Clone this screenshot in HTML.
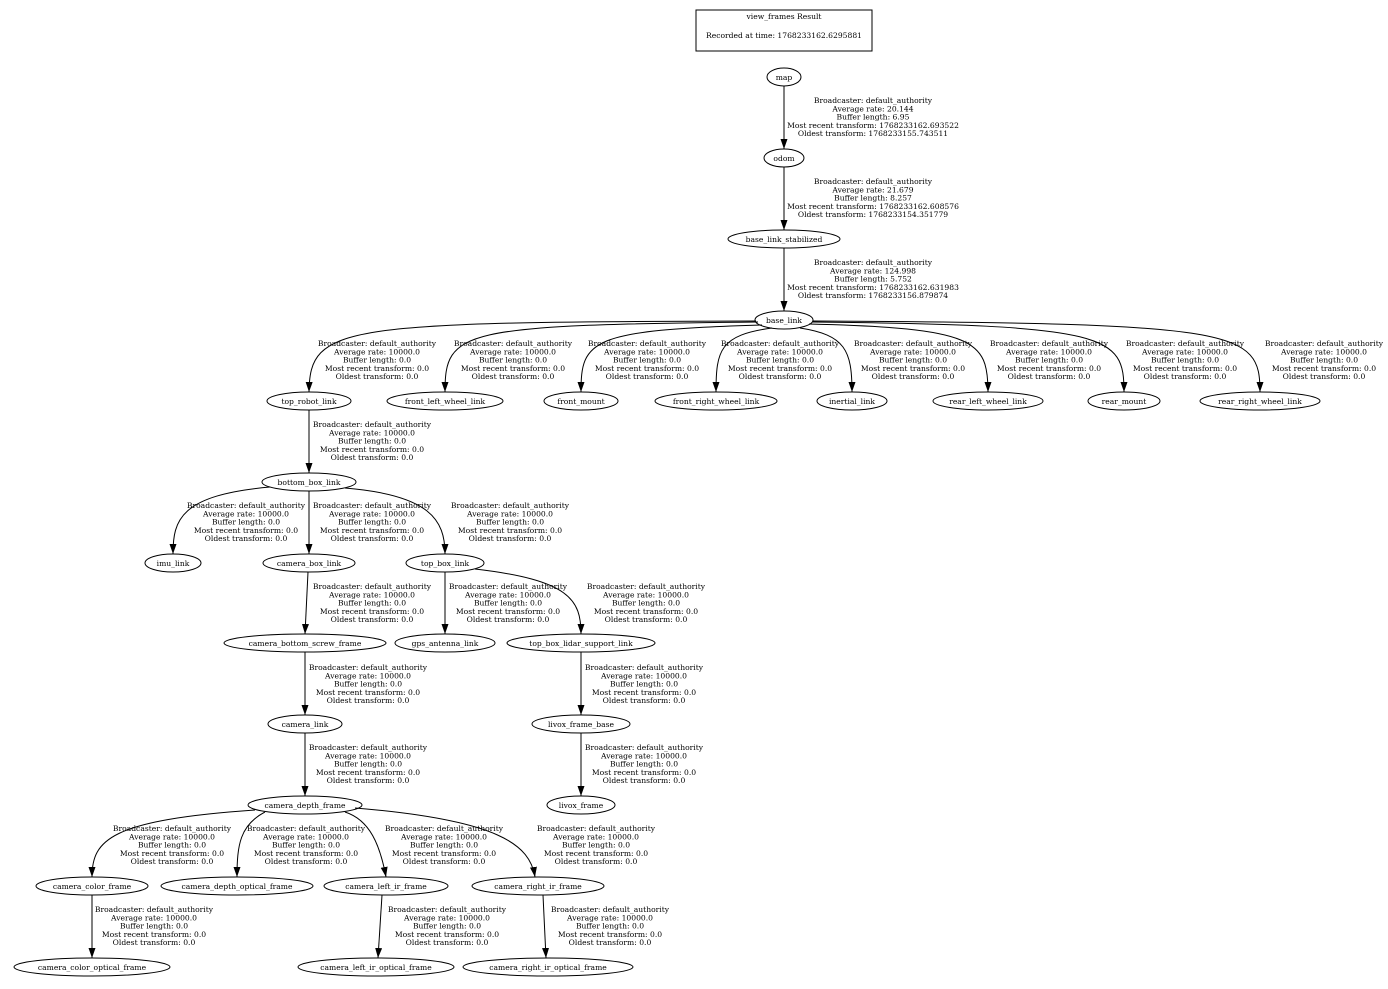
<!DOCTYPE html>
<html><head><meta charset="utf-8"><style>
html,body{margin:0;padding:0;background:#fff;}
svg{display:block;}
text{font-family:"DejaVu Serif","Liberation Serif",serif;font-size:7.6px;fill:#000;}
.n{text-anchor:middle;}
.l{text-anchor:middle;}
ellipse,rect{fill:none;stroke:#000;stroke-width:1;}
path.e{fill:none;stroke:#000;stroke-width:1;marker-end:url(#a);}
</style></head><body>
<svg width="1388" height="989" viewBox="0 0 1388 989" xmlns="http://www.w3.org/2000/svg">
<defs><marker id="a" markerUnits="userSpaceOnUse" markerWidth="10" markerHeight="8" refX="10" refY="3.5" orient="auto"><path d="M0,0 L10,3.5 L0,7 z" fill="#000"/></marker></defs>
<rect x="696" y="10" width="176" height="41"/>
<text class="n" x="784" y="19">view_frames Result</text>
<text class="n" x="784" y="38">Recorded at time: 1768233162.6295881</text>

<path class="e" d="M784,86 L784,149"/>
<path class="e" d="M784,167 L784,230"/>
<path class="e" d="M784,248 L784,311"/>
<path class="e" d="M756,321 C340,322 310,325 309,392"/>
<path class="e" d="M758,322 C460,325 445,330 445,392"/>
<path class="e" d="M762,325 C590,330 581,340 581,392"/>
<path class="e" d="M772,328 C720,335 716,350 716,392"/>
<path class="e" d="M800,328 C845,335 852,350 852,392"/>
<path class="e" d="M809,324 C975,328 988,340 988,392"/>
<path class="e" d="M812,322 C1110,325 1124,335 1124,392"/>
<path class="e" d="M813,321 C1240,323 1260,330 1260,392"/>
<path class="e" d="M309,410 L309,473"/>
<path class="e" d="M270,487 C180,495 173,520 173,554"/>
<path class="e" d="M309,491 L309,554"/>
<path class="e" d="M345,488 C430,495 445,520 445,554"/>
<path class="e" d="M308,572 L305,634"/>
<path class="e" d="M445,572 L445,634"/>
<path class="e" d="M475,569 C570,580 581,600 581,634"/>
<path class="e" d="M305,652 L305,715"/>
<path class="e" d="M581,652 L581,715"/>
<path class="e" d="M305,733 L305,796"/>
<path class="e" d="M581,733 L581,796"/>
<path class="e" d="M255,810 C110,820 92,840 92,877"/>
<path class="e" d="M265,812 C240,825 237,845 237,877"/>
<path class="e" d="M345,812 C370,820 380,845 386,877"/>
<path class="e" d="M355,808 C500,820 530,845 535,877"/>
<path class="e" d="M92,895 L92,958"/>
<path class="e" d="M382,895 L378,958"/>
<path class="e" d="M543,895 L546,958"/>

<ellipse cx="784" cy="77" rx="17" ry="9"/><text class="n" x="784" y="80">map</text>
<ellipse cx="784" cy="158" rx="20" ry="9"/><text class="n" x="784" y="161">odom</text>
<ellipse cx="784" cy="239" rx="56" ry="9"/><text class="n" x="784" y="242">base_link_stabilized</text>
<ellipse cx="784" cy="320" rx="29" ry="9"/><text class="n" x="784" y="323">base_link</text>
<ellipse cx="309" cy="401" rx="42" ry="9"/><text class="n" x="309" y="404">top_robot_link</text>
<ellipse cx="445" cy="401" rx="58" ry="9"/><text class="n" x="445" y="404">front_left_wheel_link</text>
<ellipse cx="581" cy="401" rx="37" ry="9"/><text class="n" x="581" y="404">front_mount</text>
<ellipse cx="716" cy="401" rx="61" ry="9"/><text class="n" x="716" y="404">front_right_wheel_link</text>
<ellipse cx="852" cy="401" rx="35" ry="9"/><text class="n" x="852" y="404">inertial_link</text>
<ellipse cx="988" cy="401" rx="55" ry="9"/><text class="n" x="988" y="404">rear_left_wheel_link</text>
<ellipse cx="1124" cy="401" rx="36" ry="9"/><text class="n" x="1124" y="404">rear_mount</text>
<ellipse cx="1260" cy="401" rx="60" ry="9"/><text class="n" x="1260" y="404">rear_right_wheel_link</text>
<ellipse cx="309" cy="482" rx="47" ry="9"/><text class="n" x="309" y="485">bottom_box_link</text>
<ellipse cx="173" cy="563" rx="28" ry="9"/><text class="n" x="173" y="566">imu_link</text>
<ellipse cx="309" cy="563" rx="46" ry="9"/><text class="n" x="309" y="566">camera_box_link</text>
<ellipse cx="445" cy="563" rx="39" ry="9"/><text class="n" x="445" y="566">top_box_link</text>
<ellipse cx="305" cy="643" rx="81" ry="9"/><text class="n" x="305" y="646">camera_bottom_screw_frame</text>
<ellipse cx="445" cy="643" rx="50" ry="9"/><text class="n" x="445" y="646">gps_antenna_link</text>
<ellipse cx="581" cy="643" rx="74" ry="9"/><text class="n" x="581" y="646">top_box_lidar_support_link</text>
<ellipse cx="305" cy="724" rx="37" ry="9"/><text class="n" x="305" y="727">camera_link</text>
<ellipse cx="581" cy="724" rx="49" ry="9"/><text class="n" x="581" y="727">livox_frame_base</text>
<ellipse cx="305" cy="805" rx="57" ry="9"/><text class="n" x="305" y="808">camera_depth_frame</text>
<ellipse cx="581" cy="805" rx="34" ry="9"/><text class="n" x="581" y="808">livox_frame</text>
<ellipse cx="92" cy="886" rx="56" ry="9"/><text class="n" x="92" y="889">camera_color_frame</text>
<ellipse cx="237" cy="886" rx="76" ry="9"/><text class="n" x="237" y="889">camera_depth_optical_frame</text>
<ellipse cx="386" cy="886" rx="62" ry="9"/><text class="n" x="386" y="889">camera_left_ir_frame</text>
<ellipse cx="538" cy="886" rx="66" ry="9"/><text class="n" x="538" y="889">camera_right_ir_frame</text>
<ellipse cx="92" cy="967" rx="78" ry="9"/><text class="n" x="92" y="970">camera_color_optical_frame</text>
<ellipse cx="376" cy="967" rx="78" ry="9"/><text class="n" x="376" y="970">camera_left_ir_optical_frame</text>
<ellipse cx="548" cy="967" rx="85" ry="9"/><text class="n" x="548" y="970">camera_right_ir_optical_frame</text>

<text class="l" x="873" y="103"><tspan x="873">Broadcaster: default_authority</tspan><tspan x="873" dy="8.3">Average rate: 20.144</tspan><tspan x="873" dy="8.3">Buffer length: 6.95</tspan><tspan x="873" dy="8.3">Most recent transform: 1768233162.693522</tspan><tspan x="873" dy="8.3">Oldest transform: 1768233155.743511</tspan></text>
<text class="l" x="873" y="184"><tspan x="873">Broadcaster: default_authority</tspan><tspan x="873" dy="8.3">Average rate: 21.679</tspan><tspan x="873" dy="8.3">Buffer length: 8.257</tspan><tspan x="873" dy="8.3">Most recent transform: 1768233162.608576</tspan><tspan x="873" dy="8.3">Oldest transform: 1768233154.351779</tspan></text>
<text class="l" x="873" y="265"><tspan x="873">Broadcaster: default_authority</tspan><tspan x="873" dy="8.3">Average rate: 124.998</tspan><tspan x="873" dy="8.3">Buffer length: 5.752</tspan><tspan x="873" dy="8.3">Most recent transform: 1768233162.631983</tspan><tspan x="873" dy="8.3">Oldest transform: 1768233156.879874</tspan></text>

<text class="l" y="346"><tspan x="377">Broadcaster: default_authority</tspan><tspan x="377" dy="8.3">Average rate: 10000.0</tspan><tspan x="377" dy="8.3">Buffer length: 0.0</tspan><tspan x="377" dy="8.3">Most recent transform: 0.0</tspan><tspan x="377" dy="8.3">Oldest transform: 0.0</tspan></text>
<text class="l" y="346"><tspan x="513">Broadcaster: default_authority</tspan><tspan x="513" dy="8.3">Average rate: 10000.0</tspan><tspan x="513" dy="8.3">Buffer length: 0.0</tspan><tspan x="513" dy="8.3">Most recent transform: 0.0</tspan><tspan x="513" dy="8.3">Oldest transform: 0.0</tspan></text>
<text class="l" y="346"><tspan x="647">Broadcaster: default_authority</tspan><tspan x="647" dy="8.3">Average rate: 10000.0</tspan><tspan x="647" dy="8.3">Buffer length: 0.0</tspan><tspan x="647" dy="8.3">Most recent transform: 0.0</tspan><tspan x="647" dy="8.3">Oldest transform: 0.0</tspan></text>
<text class="l" y="346"><tspan x="780">Broadcaster: default_authority</tspan><tspan x="780" dy="8.3">Average rate: 10000.0</tspan><tspan x="780" dy="8.3">Buffer length: 0.0</tspan><tspan x="780" dy="8.3">Most recent transform: 0.0</tspan><tspan x="780" dy="8.3">Oldest transform: 0.0</tspan></text>
<text class="l" y="346"><tspan x="913">Broadcaster: default_authority</tspan><tspan x="913" dy="8.3">Average rate: 10000.0</tspan><tspan x="913" dy="8.3">Buffer length: 0.0</tspan><tspan x="913" dy="8.3">Most recent transform: 0.0</tspan><tspan x="913" dy="8.3">Oldest transform: 0.0</tspan></text>
<text class="l" y="346"><tspan x="1049">Broadcaster: default_authority</tspan><tspan x="1049" dy="8.3">Average rate: 10000.0</tspan><tspan x="1049" dy="8.3">Buffer length: 0.0</tspan><tspan x="1049" dy="8.3">Most recent transform: 0.0</tspan><tspan x="1049" dy="8.3">Oldest transform: 0.0</tspan></text>
<text class="l" y="346"><tspan x="1185">Broadcaster: default_authority</tspan><tspan x="1185" dy="8.3">Average rate: 10000.0</tspan><tspan x="1185" dy="8.3">Buffer length: 0.0</tspan><tspan x="1185" dy="8.3">Most recent transform: 0.0</tspan><tspan x="1185" dy="8.3">Oldest transform: 0.0</tspan></text>
<text class="l" y="346"><tspan x="1324">Broadcaster: default_authority</tspan><tspan x="1324" dy="8.3">Average rate: 10000.0</tspan><tspan x="1324" dy="8.3">Buffer length: 0.0</tspan><tspan x="1324" dy="8.3">Most recent transform: 0.0</tspan><tspan x="1324" dy="8.3">Oldest transform: 0.0</tspan></text>

<text class="l" y="427"><tspan x="372">Broadcaster: default_authority</tspan><tspan x="372" dy="8.3">Average rate: 10000.0</tspan><tspan x="372" dy="8.3">Buffer length: 0.0</tspan><tspan x="372" dy="8.3">Most recent transform: 0.0</tspan><tspan x="372" dy="8.3">Oldest transform: 0.0</tspan></text>

<text class="l" y="508"><tspan x="246">Broadcaster: default_authority</tspan><tspan x="246" dy="8.3">Average rate: 10000.0</tspan><tspan x="246" dy="8.3">Buffer length: 0.0</tspan><tspan x="246" dy="8.3">Most recent transform: 0.0</tspan><tspan x="246" dy="8.3">Oldest transform: 0.0</tspan></text>
<text class="l" y="508"><tspan x="372">Broadcaster: default_authority</tspan><tspan x="372" dy="8.3">Average rate: 10000.0</tspan><tspan x="372" dy="8.3">Buffer length: 0.0</tspan><tspan x="372" dy="8.3">Most recent transform: 0.0</tspan><tspan x="372" dy="8.3">Oldest transform: 0.0</tspan></text>
<text class="l" y="508"><tspan x="510">Broadcaster: default_authority</tspan><tspan x="510" dy="8.3">Average rate: 10000.0</tspan><tspan x="510" dy="8.3">Buffer length: 0.0</tspan><tspan x="510" dy="8.3">Most recent transform: 0.0</tspan><tspan x="510" dy="8.3">Oldest transform: 0.0</tspan></text>

<text class="l" y="589"><tspan x="372">Broadcaster: default_authority</tspan><tspan x="372" dy="8.3">Average rate: 10000.0</tspan><tspan x="372" dy="8.3">Buffer length: 0.0</tspan><tspan x="372" dy="8.3">Most recent transform: 0.0</tspan><tspan x="372" dy="8.3">Oldest transform: 0.0</tspan></text>
<text class="l" y="589"><tspan x="508">Broadcaster: default_authority</tspan><tspan x="508" dy="8.3">Average rate: 10000.0</tspan><tspan x="508" dy="8.3">Buffer length: 0.0</tspan><tspan x="508" dy="8.3">Most recent transform: 0.0</tspan><tspan x="508" dy="8.3">Oldest transform: 0.0</tspan></text>
<text class="l" y="589"><tspan x="646">Broadcaster: default_authority</tspan><tspan x="646" dy="8.3">Average rate: 10000.0</tspan><tspan x="646" dy="8.3">Buffer length: 0.0</tspan><tspan x="646" dy="8.3">Most recent transform: 0.0</tspan><tspan x="646" dy="8.3">Oldest transform: 0.0</tspan></text>

<text class="l" y="670"><tspan x="368">Broadcaster: default_authority</tspan><tspan x="368" dy="8.3">Average rate: 10000.0</tspan><tspan x="368" dy="8.3">Buffer length: 0.0</tspan><tspan x="368" dy="8.3">Most recent transform: 0.0</tspan><tspan x="368" dy="8.3">Oldest transform: 0.0</tspan></text>
<text class="l" y="670"><tspan x="644">Broadcaster: default_authority</tspan><tspan x="644" dy="8.3">Average rate: 10000.0</tspan><tspan x="644" dy="8.3">Buffer length: 0.0</tspan><tspan x="644" dy="8.3">Most recent transform: 0.0</tspan><tspan x="644" dy="8.3">Oldest transform: 0.0</tspan></text>

<text class="l" y="750"><tspan x="368">Broadcaster: default_authority</tspan><tspan x="368" dy="8.3">Average rate: 10000.0</tspan><tspan x="368" dy="8.3">Buffer length: 0.0</tspan><tspan x="368" dy="8.3">Most recent transform: 0.0</tspan><tspan x="368" dy="8.3">Oldest transform: 0.0</tspan></text>
<text class="l" y="750"><tspan x="644">Broadcaster: default_authority</tspan><tspan x="644" dy="8.3">Average rate: 10000.0</tspan><tspan x="644" dy="8.3">Buffer length: 0.0</tspan><tspan x="644" dy="8.3">Most recent transform: 0.0</tspan><tspan x="644" dy="8.3">Oldest transform: 0.0</tspan></text>

<text class="l" y="831"><tspan x="172">Broadcaster: default_authority</tspan><tspan x="172" dy="8.3">Average rate: 10000.0</tspan><tspan x="172" dy="8.3">Buffer length: 0.0</tspan><tspan x="172" dy="8.3">Most recent transform: 0.0</tspan><tspan x="172" dy="8.3">Oldest transform: 0.0</tspan></text>
<text class="l" y="831"><tspan x="306">Broadcaster: default_authority</tspan><tspan x="306" dy="8.3">Average rate: 10000.0</tspan><tspan x="306" dy="8.3">Buffer length: 0.0</tspan><tspan x="306" dy="8.3">Most recent transform: 0.0</tspan><tspan x="306" dy="8.3">Oldest transform: 0.0</tspan></text>
<text class="l" y="831"><tspan x="444">Broadcaster: default_authority</tspan><tspan x="444" dy="8.3">Average rate: 10000.0</tspan><tspan x="444" dy="8.3">Buffer length: 0.0</tspan><tspan x="444" dy="8.3">Most recent transform: 0.0</tspan><tspan x="444" dy="8.3">Oldest transform: 0.0</tspan></text>
<text class="l" y="831"><tspan x="596">Broadcaster: default_authority</tspan><tspan x="596" dy="8.3">Average rate: 10000.0</tspan><tspan x="596" dy="8.3">Buffer length: 0.0</tspan><tspan x="596" dy="8.3">Most recent transform: 0.0</tspan><tspan x="596" dy="8.3">Oldest transform: 0.0</tspan></text>

<text class="l" y="912"><tspan x="154">Broadcaster: default_authority</tspan><tspan x="154" dy="8.3">Average rate: 10000.0</tspan><tspan x="154" dy="8.3">Buffer length: 0.0</tspan><tspan x="154" dy="8.3">Most recent transform: 0.0</tspan><tspan x="154" dy="8.3">Oldest transform: 0.0</tspan></text>
<text class="l" y="912"><tspan x="447">Broadcaster: default_authority</tspan><tspan x="447" dy="8.3">Average rate: 10000.0</tspan><tspan x="447" dy="8.3">Buffer length: 0.0</tspan><tspan x="447" dy="8.3">Most recent transform: 0.0</tspan><tspan x="447" dy="8.3">Oldest transform: 0.0</tspan></text>
<text class="l" y="912"><tspan x="610">Broadcaster: default_authority</tspan><tspan x="610" dy="8.3">Average rate: 10000.0</tspan><tspan x="610" dy="8.3">Buffer length: 0.0</tspan><tspan x="610" dy="8.3">Most recent transform: 0.0</tspan><tspan x="610" dy="8.3">Oldest transform: 0.0</tspan></text>
</svg>
</body></html>
